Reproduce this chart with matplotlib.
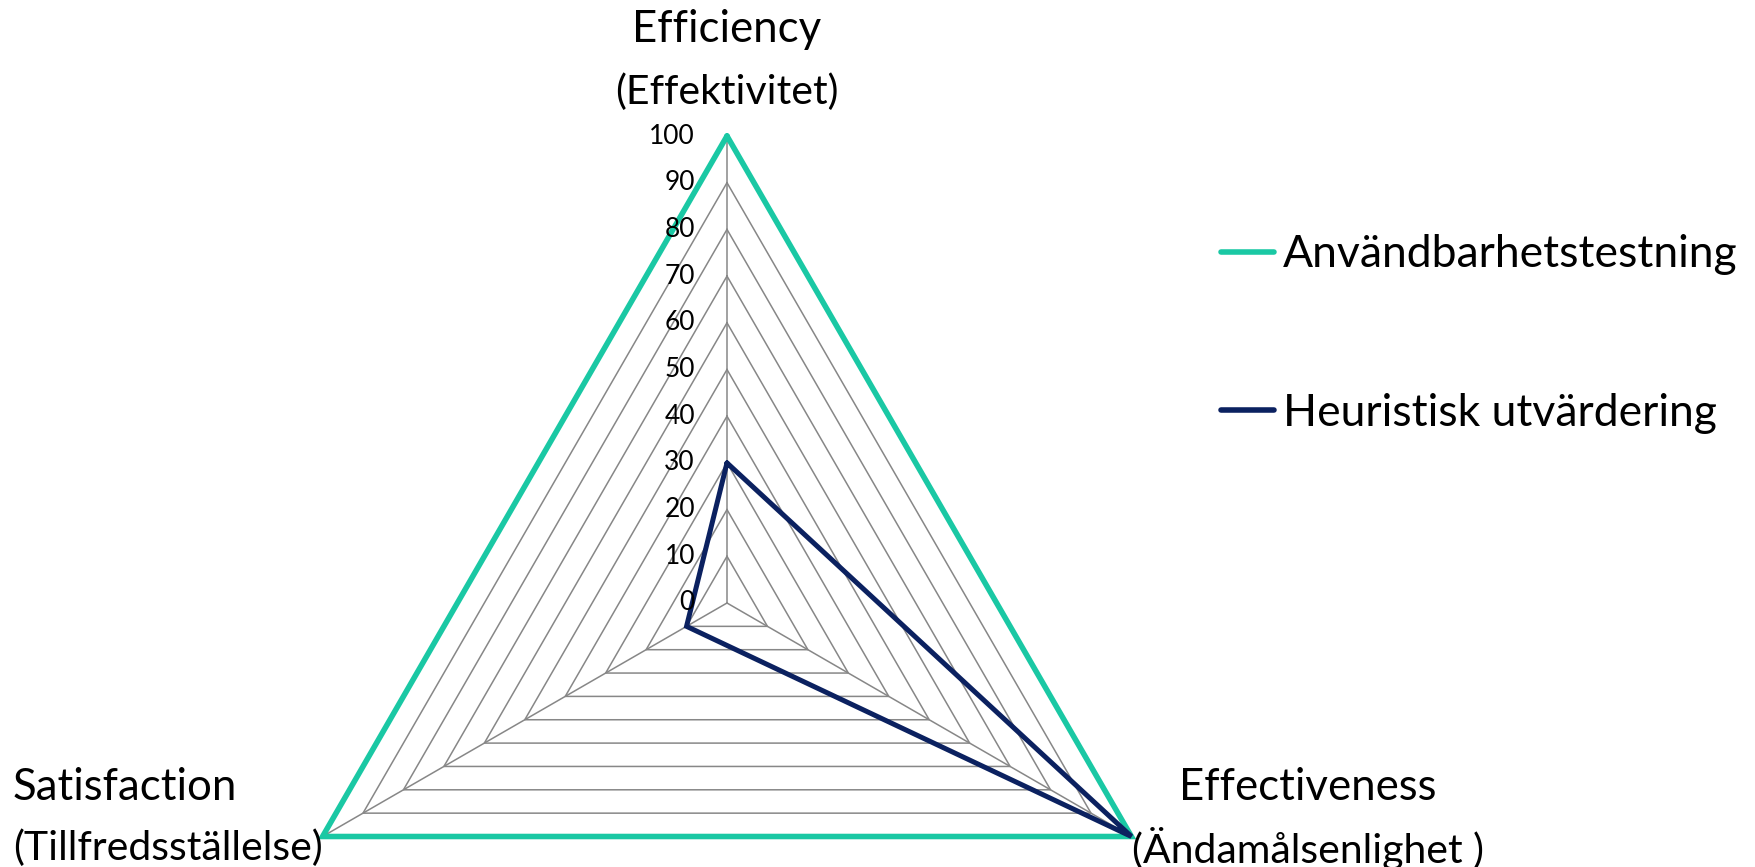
import numpy as np
import matplotlib
matplotlib.use('Agg')
import matplotlib.pyplot as plt

plt.rcParams['font.family'] = ['Lato', 'DejaVu Sans']

# axes of the radar, clockwise from the top
axis_names = ['Efficiency', 'Effectiveness', 'Satisfaction']
axis_names_sv = ['(Effektivitet)', '(Ändamålsenlighet )', '(Tillfredsställelse)']
angles_deg = [90, -30, 210]

series_names = ['Användbarhetstestning', 'Heuristisk utvärdering']
anvandbarhet = [100, 100, 100]
heuristisk = [30, 100, 10]
series_colors = ['#1ac8a4', '#0b2160']
series_lw = [4.0, 3.6]

levels = [0, 10, 20, 30, 40, 50, 60, 70, 80, 90, 100]

ang = np.deg2rad(angles_deg)


def to_xy(vals):
    v = np.array(vals + vals[:1], dtype=float)
    a = np.append(ang, ang[0])
    return v * np.cos(a), v * np.sin(a)


fig = plt.figure(figsize=(17.56, 8.67), dpi=100)
ax = fig.add_axes([0, 0, 1, 1])
px = 4.67  # pixels per unit of value
ax.set_xlim(-727 / px, (1756 - 727) / px)
ax.set_ylim(-264 / px, 603 / px)
ax.axis('off')

# triangular grid + spokes
for lv in levels[1:]:
    gx, gy = to_xy([lv] * 3)
    ax.plot(gx, gy, color='#878787', lw=1.1, zorder=1)
for a in ang:
    ax.plot([0, 100 * np.cos(a)], [0, 100 * np.sin(a)], color='#878787', lw=1.1, zorder=1)

# value labels along the top spoke
for lv in levels:
    ax.text(-32 / px, lv, str(lv), ha='right', va='center', fontsize=19, color='black', zorder=3)

for name, vals, col, lw in zip(series_names, [anvandbarhet, heuristisk], series_colors, series_lw):
    sx, sy = to_xy(vals)
    ax.plot(sx, sy, color=col, lw=lw, label=name, solid_joinstyle='miter',
            solid_capstyle='round', zorder=2)

# axis titles (english on top, swedish below)
title_pos = [(727, 'center'), (1308, 'center'), (13, 'left')]
title_y = [(30, 92), (787, 848), (787, 848)]
for (x, ha), (y1, y2), en, sv in zip(title_pos, title_y, axis_names, axis_names_sv):
    fig.text(x / 1756, 1 - y1 / 867, en, ha=ha, va='center', fontsize=31.5)
    fig.text(x / 1756, 1 - y2 / 867, sv, ha=ha, va='center', fontsize=29.5)

leg = ax.legend(loc='center left', bbox_to_anchor=(1221 / 1756, 1 - 334 / 867),
                bbox_transform=fig.transFigure, frameon=False, fontsize=32,
                handlelength=1.2, handletextpad=0.2, labelspacing=2.65,
                borderpad=0, borderaxespad=0)
for h in leg.get_lines():
    h.set_linewidth(4.0)

fig.savefig('out.png', dpi=100)
